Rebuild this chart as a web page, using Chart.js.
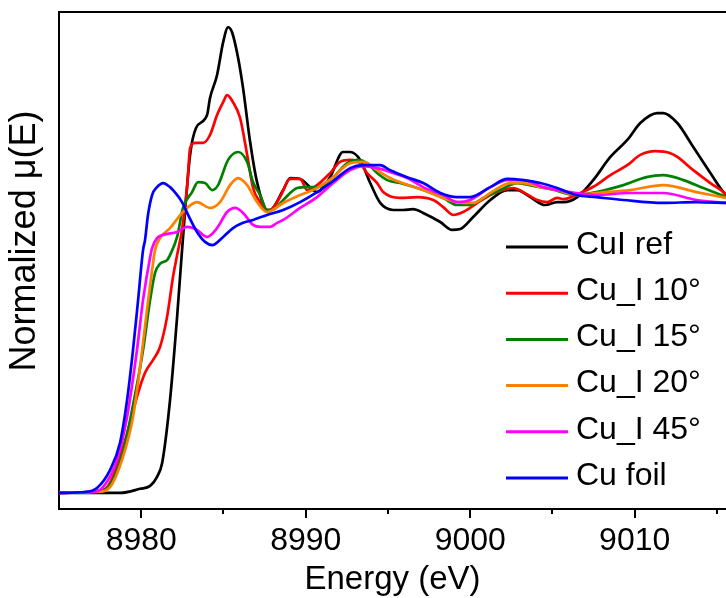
<!DOCTYPE html>
<html><head><meta charset="utf-8">
<script src="https://cdn.jsdelivr.net/npm/chart.js@4/dist/chart.umd.min.js"></script>
<style>html,body{margin:0;padding:0;background:#fff;overflow:hidden;}canvas{display:block;}</style>
</head><body>
<canvas id="c" width="726" height="598"></canvas>
<script>
const seriesLabels = ["CuI ref", "Cu_I 10°", "Cu_I 15°", "Cu_I 20°", "Cu_I 45°", "Cu foil"];
const seriesColors = ["#000000", "#ff0000", "#008000", "#ff7f00", "#ff00ff", "#0000ff"];
const xTicks = [8980, 8990, 9000, 9010];
const xMinorTicks = [8985, 8995, 9005, 9015];
const xTitle = "Energy (eV)";
const yTitle = "Normalized μ(E)";

const cuiRefE = [8975.00,8978.71,8979.93,8980.54,8980.96,8981.27,8981.75,8982.18,8982.48,8982.97,8983.33,8984.00,8984.18,8984.61,8984.98,8985.28,8985.52,8985.89,8986.19,8986.62,8987.04,8987.65,8987.83,8988.63,8989.05,8989.66,8990.45,8990.69,8991.48,8992.27,8992.70,8993.31,8993.92,8994.53,8995.32,8995.92,8996.53,8997.14,8998.18,8998.90,8999.39,9000.18,9001.22,9002.25,9002.86,9003.65,9004.56,9005.29,9005.66,9006.51,9007.48,9008.52,9009.55,9010.34,9011.37,9011.74,9012.59,9013.56,9014.60,9015.39,9015.57];
const cuiRefMu = [0.000,0.000,0.014,0.024,0.055,0.102,0.317,0.601,0.829,1.154,1.246,1.290,1.348,1.427,1.539,1.590,1.573,1.485,1.382,1.198,1.061,0.966,0.966,1.034,1.075,1.072,1.034,1.027,1.078,1.164,1.164,1.137,1.058,0.990,0.966,0.966,0.969,0.956,0.925,0.898,0.901,0.942,1.000,1.034,1.034,1.010,0.983,0.993,0.993,1.010,1.068,1.147,1.205,1.263,1.297,1.297,1.263,1.181,1.092,1.027,1.017];

const cu10E = [8975.00,8977.68,8978.10,8978.71,8979.32,8979.74,8980.23,8980.72,8981.14,8981.57,8981.93,8982.18,8982.48,8982.79,8982.97,8983.27,8983.76,8984.18,8984.61,8984.98,8985.22,8985.58,8986.01,8986.44,8986.80,8987.23,8987.65,8987.83,8988.44,8989.05,8989.66,8990.09,8990.69,8991.48,8992.09,8992.70,8993.31,8993.73,8994.34,8994.71,8995.74,8996.78,8997.75,8998.36,8998.97,8999.57,9000.43,9001.22,9002.01,9002.62,9003.22,9004.08,9004.68,9005.29,9005.66,9006.69,9007.66,9008.52,9009.55,9010.34,9011.25,9012.17,9012.59,9013.56,9014.60,9015.39,9015.57];
const cu10Mu = [0,0.010,0.034,0.123,0.239,0.328,0.410,0.454,0.498,0.601,0.737,0.812,0.898,1.044,1.177,1.195,1.195,1.222,1.290,1.334,1.358,1.334,1.280,1.154,1.041,0.993,0.966,0.966,1.010,1.072,1.072,1.034,1.051,1.092,1.130,1.137,1.126,1.092,1.058,1.027,1.007,1.010,1.000,0.976,0.949,0.959,0.990,1.017,1.034,1.041,1.027,1.000,0.993,1.007,1.003,1.024,1.051,1.085,1.119,1.154,1.167,1.160,1.147,1.102,1.058,1.027,1.017];

const cu15E = [8975.00,8977.49,8978.10,8978.89,8979.50,8980.11,8980.54,8980.84,8981.14,8981.57,8981.75,8982.18,8982.54,8983.09,8983.45,8983.88,8984.31,8984.67,8985.28,8985.89,8986.44,8986.80,8987.23,8987.65,8987.96,8988.63,8989.48,8990.09,8990.69,8991.67,8992.52,8993.13,8993.73,8994.34,8994.95,8995.74,8997.14,8998.36,8999.21,9000.00,9000.79,9001.82,9002.86,9003.83,9004.87,9006.45,9007.66,9009.31,9010.71,9011.74,9012.96,9014.17,9015.57];
const cu15Mu = [0,0.007,0.027,0.140,0.300,0.488,0.659,0.751,0.782,0.795,0.812,0.874,0.973,1.027,1.061,1.058,1.034,1.051,1.137,1.164,1.130,1.061,1.017,0.966,0.966,1.000,1.041,1.044,1.044,1.078,1.126,1.137,1.126,1.092,1.068,1.058,1.034,1.007,0.983,0.983,1.007,1.034,1.058,1.048,1.038,1.017,1.027,1.051,1.078,1.085,1.068,1.041,1.010];

const cu20E = [8975.00,8977.31,8978.10,8978.89,8979.50,8979.93,8980.35,8980.66,8980.84,8981.14,8981.75,8982.54,8983.39,8984.18,8984.79,8985.40,8985.89,8986.44,8987.04,8987.65,8988.63,8989.66,8990.69,8991.67,8992.70,8993.49,8994.34,8995.13,8997.14,8999.21,9000.18,9001.22,9002.43,9003.22,9004.44,9005.29,9006.45,9007.66,9009.73,9011.74,9013.75,9015.57];
const cu20Mu = [0,0.003,0.020,0.123,0.259,0.430,0.625,0.761,0.829,0.870,0.904,0.959,0.993,0.973,0.993,1.051,1.075,1.051,0.993,0.959,0.990,1.017,1.041,1.078,1.126,1.130,1.102,1.075,1.034,0.993,0.990,1.024,1.058,1.058,1.041,1.034,1.017,1.024,1.034,1.051,1.027,1.007];

const cu45E = [8975.00,8977.07,8977.68,8978.53,8979.14,8979.74,8980.11,8980.54,8980.66,8980.96,8981.33,8982.18,8982.79,8983.39,8984.00,8984.61,8985.22,8985.71,8986.19,8986.80,8987.23,8987.83,8988.26,8988.63,8989.66,8990.69,8991.67,8992.70,8993.49,8994.34,8995.13,8996.17,8997.14,8998.36,8999.21,9000.00,9001.22,9002.25,9003.22,9004.44,9005.29,9006.45,9007.66,9009.73,9011.74,9013.75,9015.57];
const cu45Mu = [0,0.003,0.020,0.113,0.259,0.488,0.659,0.805,0.836,0.870,0.881,0.891,0.908,0.898,0.874,0.904,0.959,0.973,0.956,0.915,0.908,0.908,0.922,0.932,0.973,1.010,1.058,1.102,1.116,1.109,1.096,1.075,1.044,1.017,0.993,1.000,1.044,1.068,1.068,1.044,1.034,1.024,1.017,1.024,1.024,1.000,0.990];

const cuFoilE = [8975.00,8976.58,8977.31,8978.10,8978.71,8979.14,8979.50,8979.81,8980.11,8980.23,8980.41,8980.66,8980.96,8981.33,8981.75,8981.93,8982.48,8982.85,8983.39,8983.88,8984.31,8984.98,8985.58,8986.19,8986.80,8987.65,8988.63,8989.66,8990.69,8991.67,8992.70,8993.49,8994.53,8995.13,8996.17,8997.14,8998.18,8999.21,9000.00,9001.22,9002.25,9003.22,9004.26,9005.29,9006.45,9007.66,9009.31,9011.74,9013.75,9015.57];
const cuFoilMu = [0,0.003,0.017,0.078,0.171,0.317,0.488,0.659,0.829,0.863,0.949,1.017,1.044,1.058,1.044,1.034,0.993,0.949,0.891,0.857,0.846,0.874,0.904,0.922,0.932,0.949,0.966,0.993,1.027,1.065,1.109,1.119,1.119,1.102,1.078,1.058,1.024,1.010,1.010,1.044,1.072,1.068,1.058,1.041,1.017,1.010,1.000,0.990,0.993,0.990];

const seriesE = [cuiRefE, cu10E, cu15E, cu20E, cu45E, cuFoilE];
const seriesMu = [cuiRefMu, cu10Mu, cu15Mu, cu20Mu, cu45Mu, cuFoilMu];

const FONT = "'Liberation Sans', Arial, sans-serif";

const datasets = seriesLabels.map((lab, i) => ({
  label: lab,
  data: seriesE[i].map((e, k) => ({x: e, y: seriesMu[i][k]})),
  borderColor: seriesColors[i],
  backgroundColor: seriesColors[i],
  borderWidth: 2.7,
  pointRadius: 0,
  fill: false,
  cubicInterpolationMode: 'monotone',
  order: seriesLabels.length - 1 - i
}));

const extras = {
  id: 'extras',
  afterDraw(chart) {
    const {ctx, chartArea: a, scales: {x}} = chart;
    ctx.save();
    ctx.strokeStyle = '#000';
    ctx.lineWidth = 2;
    ctx.beginPath(); ctx.moveTo(a.left - 1, a.top); ctx.lineTo(chart.width, a.top); ctx.stroke();
    xTicks.forEach(v => {
      const px = Math.round(x.getPixelForValue(v));
      ctx.beginPath(); ctx.moveTo(px, a.bottom); ctx.lineTo(px, a.bottom + 9); ctx.stroke();
    });
    xMinorTicks.forEach(v => {
      const px = Math.round(x.getPixelForValue(v));
      ctx.beginPath(); ctx.moveTo(px, a.bottom); ctx.lineTo(px, a.bottom + 5); ctx.stroke();
    });
    // y title
    ctx.save();
    ctx.translate(25, 241);
    ctx.rotate(-Math.PI / 2);
    ctx.font = "36px " + FONT;
    ctx.fillStyle = '#000';
    ctx.textAlign = 'center';
    ctx.textBaseline = 'middle';
    ctx.fillText(yTitle, 0, 0);
    ctx.restore();
    // legend
    const lx0 = 506, lx1 = 568, tx = 576, y0 = 247, dy = 46.2;
    ctx.font = "32px " + FONT;
    ctx.textAlign = 'left';
    ctx.textBaseline = 'middle';
    seriesLabels.forEach((lab, i) => {
      const yy = y0 + i * dy;
      ctx.strokeStyle = seriesColors[i];
      ctx.lineWidth = 3;
      ctx.beginPath(); ctx.moveTo(lx0, yy); ctx.lineTo(lx1, yy); ctx.stroke();
      ctx.fillStyle = '#000';
      ctx.fillText(lab, tx, yy - 2);
    });
    ctx.restore();
  }
};

new Chart(document.getElementById('c'), {
  type: 'line',
  data: {datasets},
  options: {
    responsive: false,
    animation: false,
    devicePixelRatio: 1,
    layout: {padding: {top: 12, right: 0, left: 0, bottom: 0}},
    plugins: {legend: {display: false}, tooltip: {enabled: false}},
    scales: {
      x: {
        type: 'linear',
        min: 8975,
        max: 9015.55,
        afterBuildTicks: s => { s.ticks = xTicks.map(v => ({value: v})); },
        afterFit: s => { s.height = 89; },
        ticks: {color: '#000', font: {family: FONT, size: 32}, padding: 13, maxRotation: 0, autoSkip: false,
                callback: v => String(v)},
        grid: {display: false, drawTicks: false},
        border: {display: true, color: '#000', width: 2},
        title: {display: true, text: xTitle, color: '#000', font: {family: FONT, size: 33, lineHeight: 1}, padding: {top: 0, bottom: 2}}
      },
      y: {
        type: 'linear',
        min: -0.055,
        max: 1.642,
        afterFit: s => { s.width = 59; },
        ticks: {display: false},
        grid: {display: false, drawTicks: false},
        border: {display: true, color: '#000', width: 2},
        title: {display: false}
      }
    }
  },
  plugins: [extras]
});
</script>
</body></html>
